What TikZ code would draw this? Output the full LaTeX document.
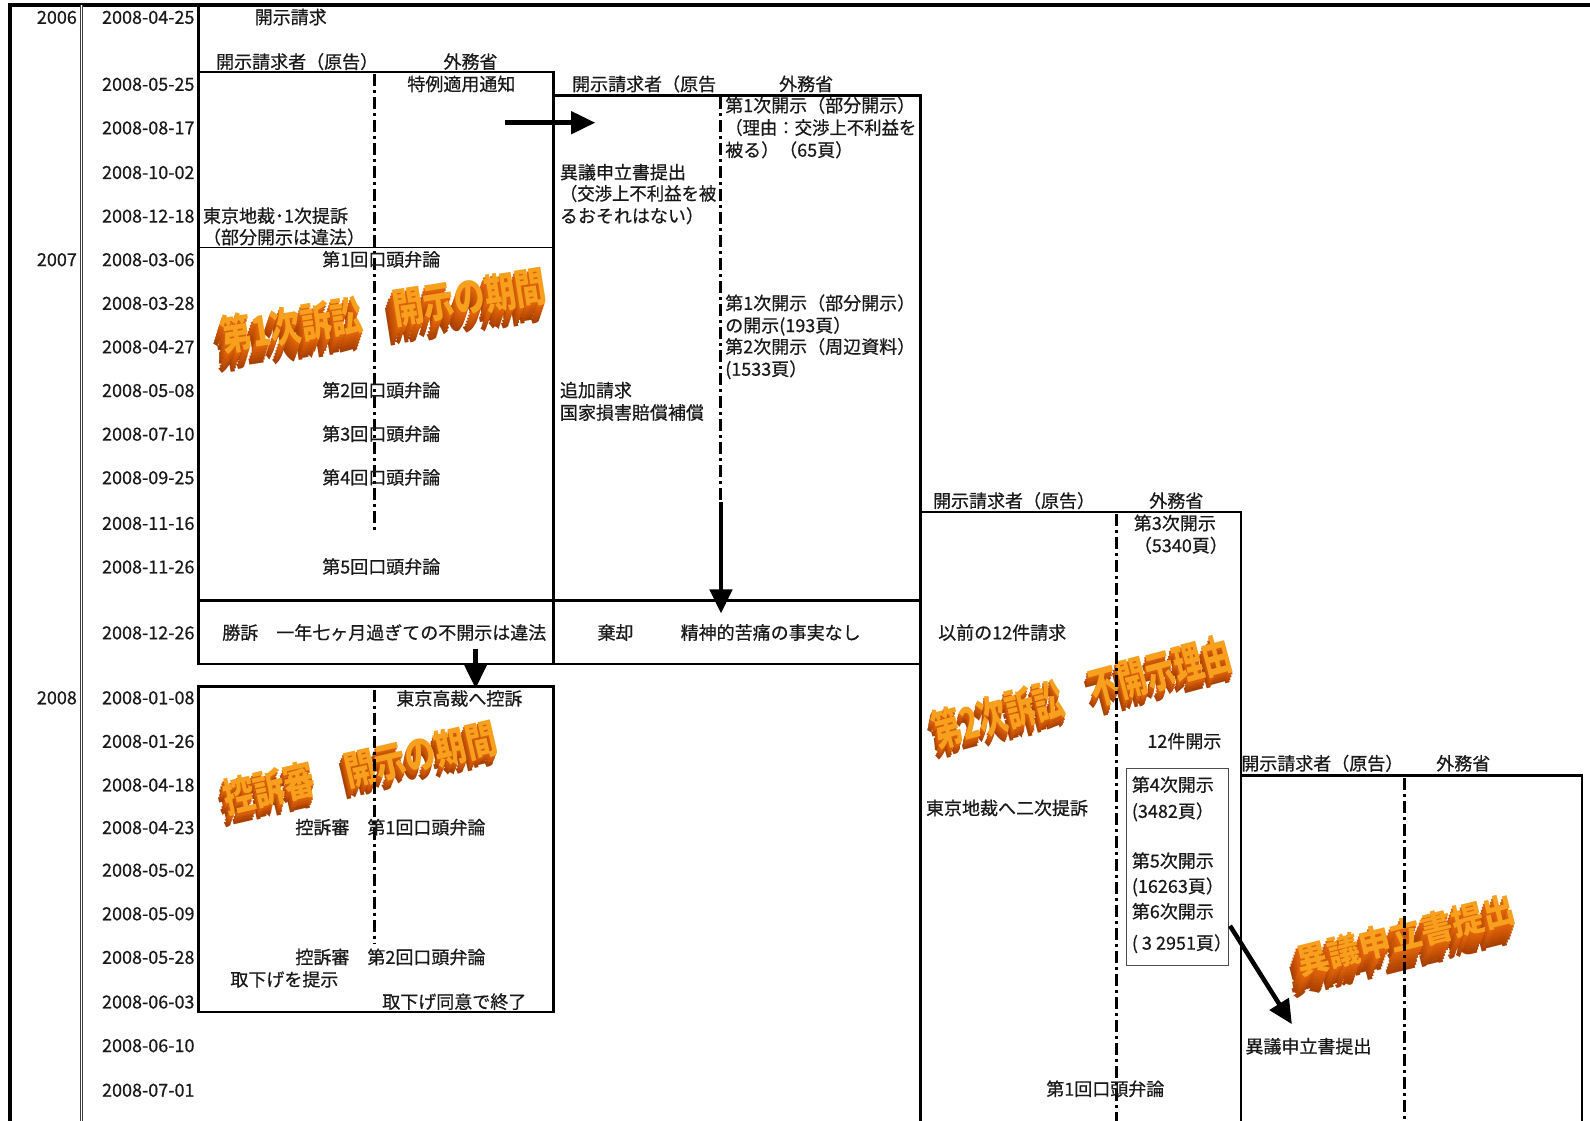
\documentclass[tikz,border=0pt]{standalone}
\usepackage{fontspec}
\setmainfont{Noto Sans CJK JP}[UprightFeatures={FakeBold=0.6}]
\usetikzlibrary{calc,arrows.meta}
\definecolor{waface}{HTML}{F7A01E}
\definecolor{waext}{HTML}{E8680C}
\definecolor{wadeep}{HTML}{A84000}
% name, x, y, angle, text, layers, step, options
\newcommand{\wordart}[8]{%
  \foreach \k in {#6,...,1}{%
    \pgfmathtruncatemacro{\pc}{100*\k/#6}%
    \colorlet{wacur}{wadeep!\pc!waext}%
    \node[wa,rotate=#4,#8,text=wacur] (#1-\k) at ({#2-0.35*#7*\k},{#3+#7*\k}) {#5};
  }%
  \node[wa,rotate=#4,#8,text=waface] (#1) at (#2,#3) {#5};
}
\begin{document}
\begin{tikzpicture}[x=1.014pt,y=-1.014pt,
  txt/.style={inner sep=0pt,font=\fontsize{18}{22}\selectfont,text=black!90,yshift=-6.6pt},
  lt/.style={txt,anchor=base west},
  ct/.style={txt,anchor=base},
  rt/.style={txt,anchor=base east},
  boxline/.style={line width=2.6pt},
  thinline/.style={line width=1.2pt},
  dd/.style={line width=3pt,dash pattern=on 12pt off 4pt on 3pt off 4pt},
  bigarrow/.style={line width=4.5pt,-{Triangle[length=24pt,width=22pt]}},
  wa/.style={inner sep=0pt}]
\useasboundingbox (0,0) rectangle (1568,1105);

% ---------- WordArt titles (behind everything) ----------
\wordart{wa1}{378}{306}{9}{第1次訴訟　開示の期間}{6}{3}{font=\fontsize{31}{31}\selectfont\bfseries,yscale=1.35}
\wordart{wa2}{355}{757}{13}{控訴審　開示の期間}{4}{2.5}{font=\fontsize{31}{31}\selectfont\bfseries,yscale=1.3}
\wordart{wa3}{1067}{682}{15}{第2次訴訟　不開示理由}{4}{2.5}{font=\fontsize{29}{29}\selectfont\bfseries,yscale=1.5}
\wordart{wa4}{1386}{922}{14}{異議申立書提出}{7}{3}{font=\fontsize{32}{32}\selectfont\bfseries,yscale=1.1}

% ---------- frame and columns ----------
\draw[line width=3.5pt] (10,1105) -- (10,5) -- (1568,5);
\draw[line width=0.8pt,black!75,double=white,double distance=1.2pt] (80,5) -- (80,1105);
\draw[boxline] (196,5) -- (196,71);

% box A (first suit)
\draw[boxline] (196,71) rectangle (546,655);
\draw[thinline] (196,244) -- (546,244);
\draw[boxline] (196,592) -- (908,592);
\draw[dd] (369,73) -- (369,525);
% box B
\draw[boxline] (546,94) -- (908,94) -- (908,1105);
\draw[boxline] (546,655) -- (908,655);
\draw[dd] (711,96) -- (711,495);
% box C (appeal)
\draw[boxline] (196,677) rectangle (546,998);
\draw[dd] (369,680) -- (369,930);
% box D (second suit)
\draw[boxline] (908,505) -- (1224,505) -- (1224,1105);
\draw[dd] (1101,507) -- (1101,1105);
\draw[line width=0.9pt,black!70] (1111,758) rectangle (1211,952);
% box E
\draw[boxline] (1224,765) -- (1560,765) -- (1560,1105);
\draw[dd] (1385,767) -- (1385,1105);

% ---------- arrows ----------
\coordinate (a1s) at (498,121);
\coordinate (a1e) at (587,121);
\coordinate (a2s) at (711,495);
\coordinate (a2e) at (711,605);
\coordinate (a3s) at (469,640);
\coordinate (a3e) at (469,679);
\coordinate (a4s) at (1213,913);
\coordinate (a4e) at (1274,1010);
\draw[bigarrow] (a1s) -- (a1e);
\draw[bigarrow] (a2s) -- (a2e);
\draw[bigarrow] (a3s) -- (a3e);
\draw[bigarrow] (a4s) -- (a4e);

% ---------- years ----------
\node[rt] (y2006) at (76,17) {2006};
\node[rt] (y2007) at (76,256) {2007};
\node[rt] (y2008) at (76,688) {2008};

% ---------- dates ----------
\node[rt] (d01) at (192,17) {2008-04-25};
\node[rt] (d02) at (192,83) {2008-05-25};
\node[rt] (d03) at (192,126) {2008-08-17};
\node[rt] (d04) at (192,170) {2008-10-02};
\node[rt] (d05) at (192,213) {2008-12-18};
\node[rt] (d06) at (192,256) {2008-03-06};
\node[rt] (d07) at (192,299) {2008-03-28};
\node[rt] (d08) at (192,342) {2008-04-27};
\node[rt] (d09) at (192,385) {2008-05-08};
\node[rt] (d10) at (192,428) {2008-07-10};
\node[rt] (d11) at (192,471) {2008-09-25};
\node[rt] (d12) at (192,516) {2008-11-16};
\node[rt] (d13) at (192,559) {2008-11-26};
\node[rt] (d14) at (192,624) {2008-12-26};
\node[rt] (d15) at (192,688) {2008-01-08};
\node[rt] (d16) at (192,731) {2008-01-26};
\node[rt] (d17) at (192,774) {2008-04-18};
\node[rt] (d18) at (192,816) {2008-04-23};
\node[rt] (d19) at (192,858) {2008-05-02};
\node[rt] (d20) at (192,901) {2008-05-09};
\node[rt] (d21) at (192,944) {2008-05-28};
\node[rt] (d22) at (192,988) {2008-06-03};
\node[rt] (d23) at (192,1031) {2008-06-10};
\node[rt] (d24) at (192,1075) {2008-07-01};

% ---------- box A texts ----------
\node[lt] (kaijiseikyu) at (251,17) {開示請求};
\node[lt] (hA1) at (213,61) {開示請求者（原告）};
\node[ct] (hA2) at (464,61) {外務省};
\node[ct] (tokurei) at (455,83) {特例適用通知};
\node[lt] (teiso1a) at (200,213) {東京地裁･1次提訴};
\node[lt] (teiso1b) at (200,234) {（部分開示は違法）};
\node[ct] (ben1) at (376,256) {第1回口頭弁論};
\node[ct] (ben2) at (376,385) {第2回口頭弁論};
\node[ct] (ben3) at (376,428) {第3回口頭弁論};
\node[ct] (ben4) at (376,471) {第4回口頭弁論};
\node[ct] (ben5) at (376,559) {第5回口頭弁論};
\begin{scope}
\clip (198,594) rectangle (545,653);
\node[lt] (shoso) at (219,624) {勝訴　一年七ヶ月過ぎての不開示は違法};
\end{scope}

% ---------- box B texts ----------
\node[lt] (hB1) at (564,83) {開示請求者（原告};
\node[ct] (hB2) at (795,83) {外務省};
\node[lt] (k1a) at (715,104) {第1次開示（部分開示）};
\node[lt,xscale=0.965] (k1b) at (715,126) {（理由：交渉上不利益を};
\node[lt] (k1c) at (715,148) {被る）（65頁）};
\node[lt] (igi1a) at (552,170) {異議申立書提出};
\node[lt,xscale=0.965] (igi1b) at (552,191) {（交渉上不利益を被};
\node[lt] (igi1c) at (552,213) {るおそれはない）};
\node[lt] (k2a) at (715,299) {第1次開示（部分開示）};
\node[lt] (k2b) at (715,321) {の開示(193頁）};
\node[lt] (k2c) at (715,342) {第2次開示（周辺資料）};
\node[lt] (k2d) at (715,364) {(1533頁）};
\node[lt] (tsuika) at (552,385) {追加請求};
\node[lt] (kokka) at (552,407) {国家損害賠償補償};
\node[ct] (kikyaku) at (607,624) {棄却};
\node[ct] (seishin) at (760,624) {精神的苦痛の事実なし};

% ---------- box C texts ----------
\node[ct] (koso) at (453,689) {東京高裁へ控訴};
\node[ct] (kben1) at (385,816) {控訴審　第1回口頭弁論};
\node[ct] (kben2) at (385,944) {控訴審　第2回口頭弁論};
\node[lt] (torisage1) at (227,966) {取下げを提示};
\node[ct] (torisage2) at (448,988) {取下げ同意で終了};

% ---------- box D texts ----------
\node[ct] (hD1) at (1000,494) {開示請求者（原告）};
\node[ct] (hD2) at (1160,494) {外務省};
\node[lt] (k3a) at (1118,516) {第3次開示};
\node[lt] (k3b) at (1118,538) {（5340頁）};
\node[lt] (izen) at (925,624) {以前の12件請求};
\node[ct] (juni) at (1168,731) {12件開示};
\node[lt] (teiso2) at (913,797) {東京地裁へ二次提訴};
\node[lt] (k4a) at (1116,774) {第4次開示};
\node[lt] (k4b) at (1116,800) {(3482頁）};
\node[lt] (k5a) at (1116,849) {第5次開示};
\node[lt] (k5b) at (1116,874) {(16263頁）};
\node[lt] (k6a) at (1116,899) {第6次開示};
\node[lt] (k6b) at (1116,930) {( 3 2951頁）};
\node[ct] (dben1) at (1090,1074) {第1回口頭弁論};

% ---------- box E texts ----------
\node[ct] (hE1) at (1304,753) {開示請求者（原告）};
\node[ct] (hE2) at (1443,753) {外務省};
\node[lt] (igi2) at (1228,1032) {異議申立書提出};
\end{tikzpicture}
\end{document}
